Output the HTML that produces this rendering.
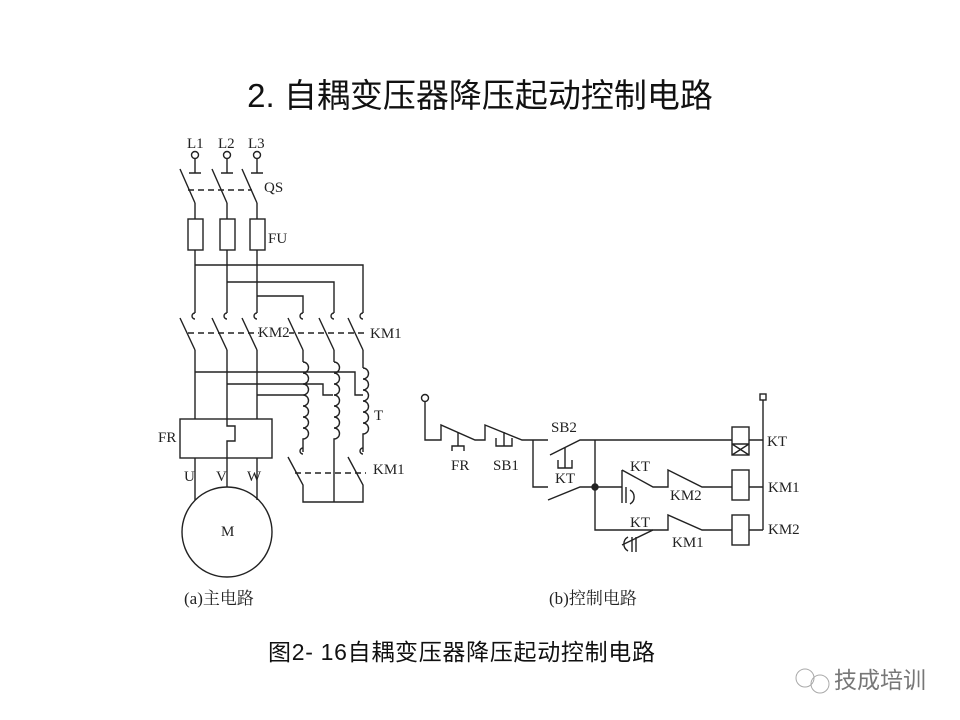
<!DOCTYPE html>
<html><head><meta charset="utf-8"><style>
html,body{margin:0;padding:0;background:#fff;}
svg{display:block;}
.t{font-family:"Liberation Serif","Noto Serif CJK SC",serif;font-size:15px;fill:#222;}
.z{font-family:"Liberation Serif","Noto Serif CJK SC",serif;font-size:17px;fill:#222;}
</style></head><body>
<svg width="960" height="720" viewBox="0 0 960 720" xmlns="http://www.w3.org/2000/svg">
<text x="480" y="107" text-anchor="middle" style="font-family:'Liberation Sans','Noto Sans CJK SC',sans-serif;font-size:33px;fill:#111">2. 自耦变压器降压起动控制电路</text>
<text x="268" y="660" textLength="387" style="font-family:'Liberation Sans','Noto Sans CJK SC',sans-serif;font-size:23px;fill:#111">图2- 16自耦变压器降压起动控制电路</text>

<g stroke="#222" stroke-width="1.4" fill="none">
<circle cx="195" cy="155" r="3.5"/><circle cx="227" cy="155" r="3.5"/><circle cx="257" cy="155" r="3.5"/>
<path d="M195 159V173M189 173H201M227 159V173M221 173H233M257 159V173M251 173H263"/>
<path d="M180 169L195 203M212 169L227 203M242 169L257 203"/>
<path d="M188 190H252" stroke-dasharray="6,4"/>
<path d="M195 203V313M227 203V313M257 203V313"/>
<rect x="188" y="219" width="15" height="31" fill="#fff"/>
<rect x="220" y="219" width="15" height="31" fill="#fff"/>
<rect x="250" y="219" width="15" height="31" fill="#fff"/>
<path d="M195 265H363V313M227 282H334V313M257 296H303V313"/>
<path d="M195 313a3 3 0 1 0 0 6M227 313a3 3 0 1 0 0 6M257 313a3 3 0 1 0 0 6M303 313a3 3 0 1 0 0 6M334 313a3 3 0 1 0 0 6M363 313a3 3 0 1 0 0 6"/>
<path d="M180 318L195 350M212 318L227 350M242 318L257 350M288 318L303 350M319 318L334 350M348 318L363 350"/>
<path d="M188 333H366" stroke-dasharray="6,4"/>
<path d="M195 350V419M227 350V419M257 350V419M303 350V362M334 350V362M363 350V368"/>
<path d="M195 372H355V395H363M227 384H323V395H333M257 395H303"/>
<path d="M303 362a5 5 0 0 1 0 11a5 5 0 0 1 0 11a5 5 0 0 1 0 11a5 5 0 0 1 0 11a5 5 0 0 1 0 11a5 5 0 0 1 0 11a5 5 0 0 1 0 11V452"/>
<path d="M334 362a5 5 0 0 1 0 11a5 5 0 0 1 0 11a5 5 0 0 1 0 11a5 5 0 0 1 0 11a5 5 0 0 1 0 11a5 5 0 0 1 0 11a5 5 0 0 1 0 11V502"/>
<path d="M363 368a5 5 0 0 1 0 11a5 5 0 0 1 0 11a5 5 0 0 1 0 11a5 5 0 0 1 0 11a5 5 0 0 1 0 11a5 5 0 0 1 0 11V452"/>
<path d="M303 448a3 3 0 1 0 0 6M363 448a3 3 0 1 0 0 6"/>
<path d="M288 457L303 485V502H363V485L348 457"/>
<path d="M295 473H366" stroke-dasharray="6,4"/>
<rect x="180" y="419" width="92" height="39" fill="#fff"/>
<path d="M227 419V426H235V441H227V458"/>
<path d="M195 458V500M227 458V487M257 458V500"/>
<circle cx="227" cy="532" r="45"/>
<circle cx="425" cy="398" r="3.5"/>
<path d="M425 402V440H441V425L475 440H485V425L522 440H548"/>
<path d="M458 432V446H452V451M458 446H464V451"/>
<path d="M504 432V446H496V438M504 446H512V438"/>
<path d="M533 440V487H548M550 455L580 440H732"/>
<path d="M565 448V468H558V460M565 468H572V460"/>
<path d="M548 500L580 487H622M595 440V530H653"/>
<circle cx="595" cy="487" r="3" fill="#222"/>
<path d="M622 470V487M622 470L653 487H668V470L702 487H732"/>
<path d="M622 487V503M626 487V503M630 490a8 8 0 0 1 0 14"/>
<path d="M622 545L653 530H668V515L702 530H732"/>
<path d="M632 537V552M636 537V552M628 537a8 8 0 0 0 0 14"/>
<rect x="732" y="427" width="17" height="28"/>
<path d="M732 444H749M732 444L749 455M749 444L732 455"/>
<rect x="732" y="470" width="17" height="30"/>
<rect x="732" y="515" width="17" height="30"/>
<rect x="760" y="394" width="6" height="6"/>
<path d="M763 400V530M749 440H763M749 487H763M749 530H763"/>
</g>
<rect x="259" y="325" width="30" height="14" fill="#fff"/>
<g class="t">
<text x="187" y="148">L1</text><text x="218" y="148">L2</text><text x="248" y="148">L3</text>
<text x="264" y="192">QS</text><text x="268" y="243">FU</text>
<text x="258" y="337">KM2</text><text x="370" y="338">KM1</text>
<text x="374" y="420">T</text><text x="373" y="474">KM1</text>
<text x="158" y="442">FR</text>
<text x="184" y="481">U</text><text x="216" y="481">V</text><text x="247" y="481">W</text>
<text x="221" y="536">M</text>
<text x="451" y="470">FR</text><text x="493" y="470">SB1</text>
<text x="551" y="432">SB2</text><text x="555" y="483">KT</text>
<text x="630" y="471">KT</text><text x="670" y="500">KM2</text>
<text x="630" y="527">KT</text><text x="672" y="547">KM1</text>
<text x="767" y="446">KT</text><text x="768" y="492">KM1</text><text x="768" y="534">KM2</text>
</g>
<text class="z" x="184" y="604">(a)主电路</text>
<text class="z" x="549" y="604">(b)控制电路</text>
<g stroke="#aaa" fill="none" stroke-width="1"><circle cx="805" cy="678" r="9"/><circle cx="820" cy="684" r="9"/></g>
<text x="834" y="688" style="font-family:'Liberation Sans','Noto Sans CJK SC',sans-serif;font-size:23px;fill:#777">技成培训</text>
</svg>
</body></html>
